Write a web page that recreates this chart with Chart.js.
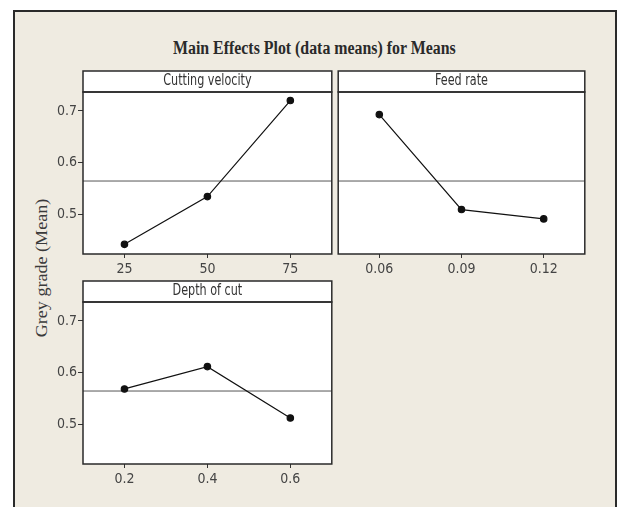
<!DOCTYPE html>
<html>
<head>
<meta charset="utf-8">
<script src="https://cdn.jsdelivr.net/npm/chart.js@4.4.1/dist/chart.umd.min.js"></script>
<style>
  html, body { margin: 0; padding: 0; background: #fff; }
  body { width: 617px; height: 507px; position: relative; overflow: hidden; }
  #frame {
    position: absolute; left: 13px; top: 10px; width: 600px; height: 520px;
    background: #efebe1; border: 2px solid #2a2a2a; border-bottom: none;
  }
  canvas { position: absolute; }
  #title {
    position: absolute; left: 173px; top: 39px; white-space: nowrap;
    font: bold 18px/18px 'Liberation Serif', 'Times New Roman', serif; color: #2a2a2a;
    transform-origin: left center;
  }
  #ylabel {
    position: absolute; left: 42px; top: 268px; white-space: nowrap;
    font: 16px/16px 'Liberation Serif', 'Times New Roman', serif; color: #3a3a3a;
  }
</style>
</head>
<body>
<div id="frame"></div>
<div id="title">Main Effects Plot (data means) for Means</div>
<div id="ylabel">Grey grade (Mean)</div>
<canvas id="cvChart" width="307" height="216" style="left:30px;top:68px"></canvas>
<canvas id="frChart" width="257" height="216" style="left:333px;top:68px"></canvas>
<canvas id="docChart" width="307" height="214" style="left:30px;top:280px"></canvas>
<script>
// Data
const panelTitles = ['Cutting velocity', 'Feed rate', 'Depth of cut'];
const cuttingVelocity = [25, 50, 75];
const feedRate = [0.06, 0.09, 0.12];
const depthOfCut = [0.2, 0.4, 0.6];
const cvLabels = ['25', '50', '75'];
const frLabels = ['0.06', '0.09', '0.12'];
const docLabels = ['0.2', '0.4', '0.6'];
const cvMeans = [0.443, 0.535, 0.720];
const frMeans = [0.693, 0.510, 0.492];
const docMeans = [0.569, 0.612, 0.513];
const grandMean = 0.565;
const yTicks = [0.5, 0.6, 0.7];
const yMin = 0.4244;
const yMax = 0.7365;

const tickFont = { family: "'DejaVu Sans Condensed', 'DejaVu Sans', sans-serif", size: 14 };
const stripFont = "15px 'DejaVu Sans Condensed', 'DejaVu Sans', sans-serif";

// title & axis label squeezed to the width seen in the picture
const titleEl = document.getElementById('title');
titleEl.style.transform = 'scaleX(' + (283 / titleEl.offsetWidth) + ')';
const yl = document.getElementById('ylabel');
yl.style.transform = 'translate(-50%, -50%) rotate(-90deg) scaleX(' + (139 / yl.offsetWidth) + ')';

const panelFrame = {
  id: 'panelFrame',
  beforeDraw(chart) {
    const a = chart.chartArea;
    const ctx = chart.ctx;
    ctx.save();
    ctx.fillStyle = '#fff';
    ctx.fillRect(a.left, a.top, a.right - a.left, a.bottom - a.top);
    ctx.restore();
  },
  afterDraw(chart, args, opts) {
    const a = chart.chartArea;
    const ctx = chart.ctx;
    const h = 21;
    ctx.save();
    ctx.fillStyle = '#fff';
    ctx.fillRect(a.left, a.top - h, a.right - a.left, h);
    ctx.strokeStyle = '#2a2a2a';
    ctx.lineWidth = 1.5;
    ctx.strokeRect(a.left, a.top - h, a.right - a.left, h);
    ctx.strokeRect(a.left, a.top, a.right - a.left, a.bottom - a.top);
    // strip label, condensed like the original
    ctx.translate((a.left + a.right) / 2, a.top - h / 2);
    ctx.scale(0.83, 1);
    ctx.fillStyle = '#333';
    ctx.font = stripFont;
    ctx.textAlign = 'center';
    ctx.textBaseline = 'middle';
    ctx.fillText(opts.text, 0, 0);
    ctx.restore();
  }
};

function makePanel(id, title, levels, means, labels, showY, pad) {
  const step = levels[1] - levels[0];
  const xMin = levels[0] - step / 2;
  const xMax = levels[levels.length - 1] + step / 2;
  return new Chart(document.getElementById(id), {
    type: 'line',
    data: {
      datasets: [
        {
          data: levels.map((v, i) => ({ x: v, y: means[i] })),
          borderColor: '#111', borderWidth: 1.2,
          pointBackgroundColor: '#111', pointBorderColor: '#111', pointRadius: 3.2,
          tension: 0
        },
        {
          data: [{ x: xMin, y: grandMean }, { x: xMax, y: grandMean }],
          borderColor: '#555', borderWidth: 1, pointRadius: 0
        }
      ]
    },
    options: {
      responsive: false,
      devicePixelRatio: 1,
      animation: false,
      layout: { padding: pad },
      plugins: {
        legend: { display: false },
        tooltip: { enabled: false },
        panelFrame: { text: title }
      },
      scales: {
        x: {
          type: 'linear', min: xMin, max: xMax,
          afterBuildTicks: s => { s.ticks = levels.map(v => ({ value: v })); },
          afterFit: s => { s.height = 30; },
          ticks: {
            callback: (v, i) => labels[i], font: tickFont, color: '#444',
            padding: 3, maxRotation: 0, autoSkip: false
          },
          grid: { drawOnChartArea: false, tickLength: 4, color: '#333' },
          border: { display: false }
        },
        y: {
          type: 'linear', min: yMin, max: yMax, display: showY,
          afterBuildTicks: s => { s.ticks = yTicks.map(v => ({ value: v })); },
          afterFit: s => { s.width = showY ? 53 : 0; },
          ticks: { callback: v => v.toFixed(1), font: tickFont, color: '#444', padding: 1 },
          grid: { drawOnChartArea: false, tickLength: 5, color: '#333' },
          border: { display: false }
        }
      }
    },
    plugins: [panelFrame]
  });
}

makePanel('cvChart', panelTitles[0], cuttingVelocity, cvMeans, cvLabels, true, { top: 24, left: 0, right: 2, bottom: 0 });
makePanel('frChart', panelTitles[1], feedRate, frMeans, frLabels, false, { top: 24, left: 2, right: 2, bottom: 0 });
makePanel('docChart', panelTitles[2], depthOfCut, docMeans, docLabels, true, { top: 22, left: 0, right: 2, bottom: 0 });
</script>
</body>
</html>
